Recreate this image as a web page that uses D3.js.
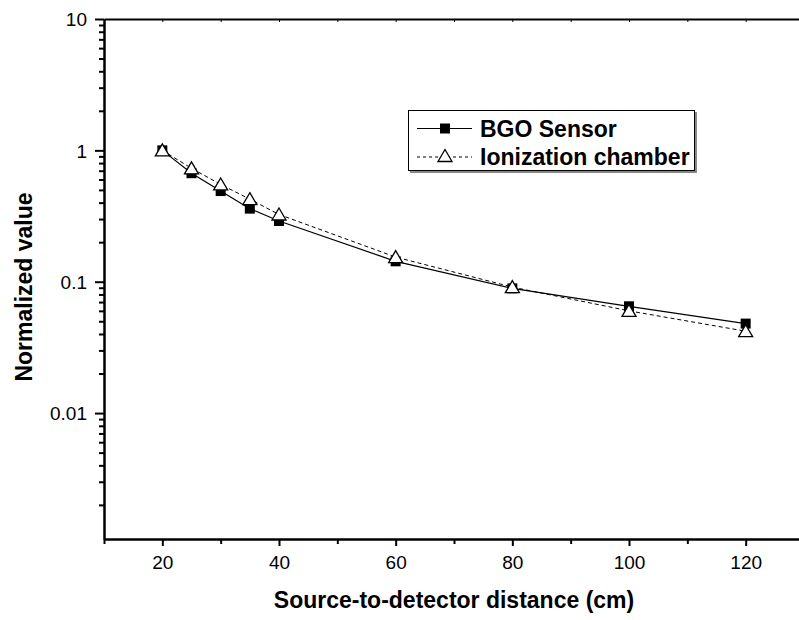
<!DOCTYPE html>
<html>
<head>
<meta charset="utf-8">
<script src="https://cdn.jsdelivr.net/npm/d3@7"></script>
<style>
  body { margin: 0; background: #fff; }
  text { font-family: "Liberation Sans", Arial, sans-serif; }
</style>
</head>
<body>
<svg id="vis"></svg>
<script>
// Datos
const distancias = [20, 25, 30, 35, 40, 60, 80, 100, 120];
const bgoSensor = [1.0, 0.67, 0.49, 0.36, 0.29, 0.143, 0.089, 0.065, 0.048];
const ionChamber = [1.0, 0.73, 0.55, 0.425, 0.325, 0.154, 0.091, 0.06, 0.042];
const xMajor = [20, 40, 60, 80, 100, 120];
const xMinor = [10, 30, 50, 70, 90, 110];
const yMajor = [0.01, 0.1, 1, 10];
const yLabels = ["0.01", "0.1", "1", "10"];
const nombres = ["BGO Sensor", "Ionization chamber"];

const WIDTH = 799;
const HEIGHT = 620;
const MARGIN = { top: 19, left: 104, bottom: 539, right: 804 };

const svg = d3.select("#vis")
    .attr("width", WIDTH)
    .attr("height", HEIGHT);

const escalaX = d3.scaleLinear()
    .domain([10, 130])
    .range([MARGIN.left, MARGIN.right]);

const escalaY = d3.scaleLog()
    .domain([0.0011, 10])
    .range([MARGIN.bottom, MARGIN.top]);

// menores del eje Y (2..9 por decada)
const yMinor = [];
[0.001, 0.01, 0.1, 1].forEach(d => {
    for (let k = 2; k <= 9; k++) {
        const v = d * k;
        if (v >= 0.0011) yMinor.push(v);
    }
});

function estiloEje(g, ancho) {
    g.select(".domain").attr("stroke", "black").attr("stroke-width", ancho);
    g.selectAll(".tick line").attr("stroke", "black").attr("stroke-width", 2);
    g.selectAll(".tick text")
        .attr("fill", "black")
        .style("font-size", "19px")
        .style("font-family", "'Liberation Sans', Arial, sans-serif");
}

// EJE Y
svg.append("g")
    .attr("transform", `translate(${MARGIN.left},0)`)
    .call(d3.axisLeft(escalaY).tickValues(yMinor).tickSize(5).tickFormat("").tickSizeOuter(0))
    .call(g => estiloEje(g, 2));

svg.append("g")
    .attr("transform", `translate(${MARGIN.left},0)`)
    .call(d3.axisLeft(escalaY).tickValues(yMajor).tickSize(9).tickPadding(8).tickSizeOuter(0)
        .tickFormat((d, i) => yLabels[i]))
    .call(g => estiloEje(g, 2))
    .call(g => g.selectAll(".tick text").attr("dy", "0.36em"));

// EJE X
svg.append("g")
    .attr("transform", `translate(0,${MARGIN.bottom})`)
    .call(d3.axisBottom(escalaX).tickValues(xMinor).tickSize(5).tickFormat("").tickSizeOuter(0))
    .call(g => estiloEje(g, 2));

svg.append("g")
    .attr("transform", `translate(0,${MARGIN.bottom})`)
    .call(d3.axisBottom(escalaX).tickValues(xMajor).tickSize(7).tickPadding(10).tickSizeOuter(0))
    .call(g => estiloEje(g, 2));

// eje superior (sin etiquetas)
svg.append("g")
    .attr("transform", `translate(0,${MARGIN.top})`)
    .call(d3.axisBottom(escalaX).tickValues(xMajor.concat(xMinor).filter(d => d > 10)).tickSize(3).tickFormat("").tickSizeOuter(0))
    .call(g => estiloEje(g, 2))
    .call(g => g.selectAll(".tick line").attr("stroke-width", 1));

// Lineas
const linea = d3.line()
    .x(d => escalaX(d[0]))
    .y(d => escalaY(d[1]));

const datosBgo = distancias.map((d, i) => [d, bgoSensor[i]]);
const datosIc = distancias.map((d, i) => [d, ionChamber[i]]);

svg.append("path")
    .datum(datosIc)
    .attr("d", linea)
    .attr("fill", "none")
    .attr("stroke", "black")
    .attr("stroke-width", 1)
    .attr("stroke-dasharray", "4,3");

svg.append("path")
    .datum(datosBgo)
    .attr("d", linea)
    .attr("fill", "none")
    .attr("stroke", "black")
    .attr("stroke-width", 1.2);

const cuadrado = d3.symbol().type(d3.symbolSquare).size(100);
const triangulo = "M0,-6.5L7,5.5L-7,5.5Z";

svg.append("g")
    .selectAll("path")
    .data(datosBgo)
    .join("path")
    .attr("d", cuadrado)
    .attr("transform", d => `translate(${escalaX(d[0])},${escalaY(d[1])})`)
    .attr("fill", "black");

svg.append("g")
    .selectAll("path")
    .data(datosIc)
    .join("path")
    .attr("d", triangulo)
    .attr("transform", d => `translate(${escalaX(d[0])},${escalaY(d[1])})`)
    .attr("fill", "white")
    .attr("stroke", "black")
    .attr("stroke-width", 1.3);

// Leyenda
const leyenda = svg.append("g");
leyenda.append("rect")
    .attr("x", 410).attr("y", 112).attr("width", 287).attr("height", 61)
    .attr("fill", "#888");
leyenda.append("rect")
    .attr("x", 408.5).attr("y", 110.5).attr("width", 286).attr("height", 60)
    .attr("fill", "white").attr("stroke", "black").attr("stroke-width", 1);

leyenda.append("line")
    .attr("x1", 417).attr("x2", 472).attr("y1", 128.5).attr("y2", 128.5)
    .attr("stroke", "black").attr("stroke-width", 1.2);
leyenda.append("path")
    .attr("d", cuadrado)
    .attr("transform", "translate(445,128.5)")
    .attr("fill", "black");
leyenda.append("line")
    .attr("x1", 417).attr("x2", 472).attr("y1", 157).attr("y2", 157)
    .attr("stroke", "black").attr("stroke-width", 1).attr("stroke-dasharray", "3,3");
leyenda.append("path")
    .attr("d", triangulo)
    .attr("transform", "translate(445,156)")
    .attr("fill", "white").attr("stroke", "black").attr("stroke-width", 1.3);

leyenda.selectAll("text.nombre")
    .data(nombres)
    .join("text")
    .attr("class", "nombre")
    .attr("x", 480)
    .attr("y", (d, i) => 136.5 + i * 28.5)
    .attr("font-size", "23px")
    .attr("font-weight", "bold")
    .text(d => d);

// Nombres de ejes
svg.append("text")
    .attr("x", (MARGIN.left + MARGIN.right) / 2)
    .attr("y", 608)
    .attr("text-anchor", "middle")
    .attr("font-size", "23px")
    .attr("font-weight", "bold")
    .text("Source-to-detector distance (cm)");

svg.append("text")
    .attr("transform", "translate(32,287) rotate(-90)")
    .attr("text-anchor", "middle")
    .attr("font-size", "23px")
    .attr("font-weight", "bold")
    .text("Normalized value");
</script>
</body>
</html>
